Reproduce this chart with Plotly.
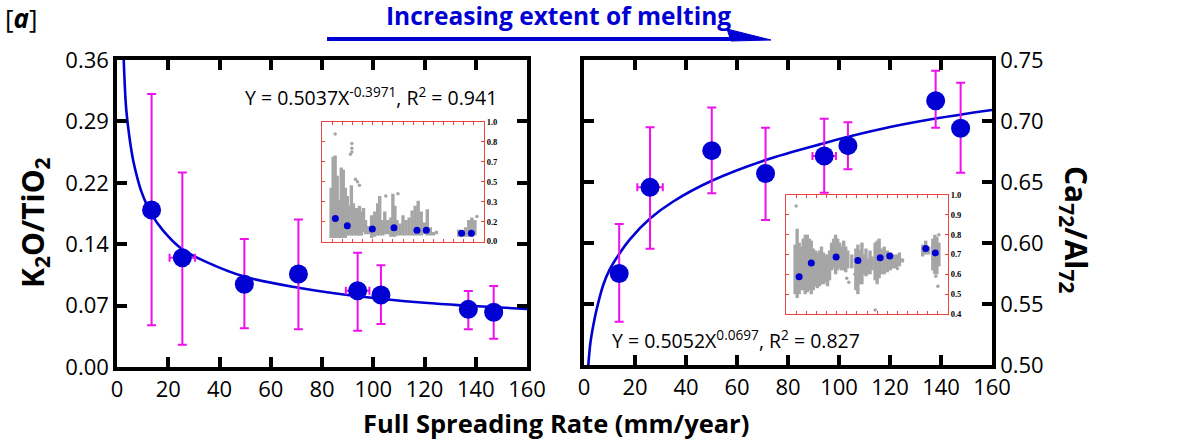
import plotly.graph_objects as go

W, H = 1189, 442

# ---------------- data ----------------
# Left panel: K2O/TiO2 vs full spreading rate
K_X = [13.5, 25.5, 49.7, 70.8, 93.9, 103.0, 137.1, 147.0]
K_Y = [0.184, 0.128, 0.097, 0.109, 0.0895, 0.0844, 0.0676, 0.0641]
K_ERR_UP = [0.136, 0.100, 0.053, 0.064, 0.0445, 0.035, 0.0215, 0.031]
K_ERR_DN = [0.135, 0.102, 0.0516, 0.0648, 0.047, 0.034, 0.0234, 0.031]
K_XERR = [0, 5.0, 0, 2.0, 4.6, 0, 0, 0]
K_FIT_X = [2.6, 3.5, 4.4, 5.3, 6.4, 8.0, 9.6, 11.5, 13.5, 18.0, 25.5, 35.0, 49.7, 70.8, 93.9, 120.0, 137.1, 160.0]
K_FIT_Y = [0.362, 0.306, 0.280, 0.260, 0.241, 0.221, 0.205, 0.191, 0.179, 0.160, 0.138, 0.123, 0.106, 0.093, 0.083, 0.0753, 0.0718, 0.068]

# Right panel: Ca72/Al72 vs full spreading rate
C_X = [13.8, 25.9, 50.1, 71.2, 94.2, 103.5, 137.9, 147.7]
C_Y = [0.575, 0.6456, 0.6757, 0.657, 0.6713, 0.6798, 0.7166, 0.694]
C_ERR_UP = [0.0406, 0.0492, 0.0353, 0.0375, 0.0306, 0.0192, 0.0246, 0.0374]
C_ERR_DN = [0.0395, 0.0503, 0.035, 0.0381, 0.0301, 0.0194, 0.0221, 0.0364]
C_XERR = [0, 5.0, 0, 2.0, 4.6, 0, 0, 0]
C_FIT_X = [1.7, 2.5, 3.6, 5.0, 7.6, 10.0, 13.8, 18.0, 25.9, 35.0, 50.1, 71.2, 94.5, 103.6, 120.0, 137.9, 160.0]
C_FIT_Y = [0.500, 0.518, 0.532, 0.546, 0.566, 0.578, 0.591, 0.603, 0.620, 0.634, 0.651, 0.668, 0.682, 0.687, 0.695, 0.702, 0.709]

# Left inset: sample ranges (columns of grey points) and means
KI_COL_X = [9, 11, 13, 15, 17, 19, 21, 23, 25, 27, 29, 31, 33, 35, 37, 39, 41, 43, 46, 49, 52, 55, 57, 60,
            62, 65, 68, 70, 72, 74, 77, 80, 83, 86, 89, 92, 95, 98, 101, 104, 107, 110, 113,
            135, 138, 142, 145, 148, 151]
KI_COL_LO = [0.03, 0.03, 0.03, 0.03, 0.03, 0.03, 0.03, 0.03, 0.05, 0.05, 0.05, 0.05, 0.05, 0.05, 0.05, 0.05,
             0.08, 0.06, 0.06, 0.03, 0.04, 0.05, 0.05, 0.05, 0.06, 0.06, 0.04, 0.04, 0.04, 0.05, 0.05, 0.05,
             0.05, 0.05, 0.05, 0.05, 0.05, 0.05, 0.06, 0.05, 0.05, 0.05, 0.06, 0.04, 0.04, 0.04, 0.04, 0.04,
             0.05]
KI_COL_HI = [0.45, 0.71, 0.72, 0.55, 0.35, 0.62, 0.60, 0.45, 0.38, 0.30, 0.47, 0.32, 0.28, 0.28, 0.30, 0.25,
             0.28, 0.18, 0.13, 0.22, 0.25, 0.32, 0.38, 0.18, 0.25, 0.18, 0.20, 0.40, 0.30, 0.18, 0.15, 0.22,
             0.18, 0.20, 0.26, 0.30, 0.34, 0.25, 0.16, 0.27, 0.12, 0.08, 0.09, 0.10, 0.08, 0.12, 0.18, 0.20,
             0.18]
KI_OUT_X = [13, 28, 29.5, 29.5, 29.5, 33, 35, 37, 63, 75, 153]
KI_OUT_Y = [0.90, 0.73, 0.82, 0.78, 0.75, 0.52, 0.50, 0.47, 0.38, 0.40, 0.21]
KI_MEAN_X = [13.2, 25.0, 49.7, 71.1, 93.8, 103.0, 137.9, 147.5]
KI_MEAN_Y = [0.193, 0.132, 0.105, 0.116, 0.094, 0.094, 0.069, 0.069]

# Right inset
CI_COL_X = [9, 11, 13, 15, 17, 19, 21, 23, 25, 27, 29, 31, 33, 35, 37, 39, 41, 43, 45, 47, 49, 51, 53, 55,
            57, 59, 61, 65, 69, 71, 73, 75, 77, 79, 81, 83, 85, 88, 90, 92, 94, 97, 100, 103, 106, 109,
            112, 115, 135, 138, 141, 145, 147, 149, 151]
CI_COL_LO = [0.50, 0.48, 0.50, 0.52, 0.52, 0.50, 0.51, 0.52, 0.50, 0.52, 0.54, 0.53, 0.54, 0.55, 0.55, 0.56,
             0.54, 0.57, 0.62, 0.63, 0.60, 0.62, 0.63, 0.62, 0.62, 0.61, 0.63, 0.63, 0.52, 0.50, 0.55, 0.55,
             0.60, 0.59, 0.60, 0.60, 0.62, 0.57, 0.55, 0.58, 0.60, 0.60, 0.61, 0.62, 0.63, 0.63, 0.64, 0.66,
             0.69, 0.70, 0.70, 0.62, 0.60, 0.60, 0.64]
CI_COL_HI = [0.75, 0.83, 0.76, 0.74, 0.78, 0.80, 0.80, 0.78, 0.77, 0.73, 0.72, 0.71, 0.72, 0.74, 0.71, 0.70,
             0.70, 0.72, 0.76, 0.78, 0.80, 0.78, 0.76, 0.74, 0.77, 0.74, 0.72, 0.70, 0.73, 0.75, 0.72, 0.76,
             0.70, 0.73, 0.68, 0.72, 0.69, 0.76, 0.77, 0.78, 0.73, 0.74, 0.72, 0.71, 0.70, 0.70, 0.71, 0.68,
             0.75, 0.77, 0.74, 0.78, 0.80, 0.79, 0.76]
CI_OUT_X = [10, 60, 62, 68, 88, 110, 148, 150, 151]
CI_OUT_Y = [0.945, 0.58, 0.56, 0.60, 0.42, 0.63, 0.59, 0.54, 0.80]
CI_MEAN_X = [13.0, 25.0, 49.5, 71.0, 93.0, 102.5, 138.0, 147.5]
CI_MEAN_Y = [0.588, 0.657, 0.688, 0.670, 0.683, 0.692, 0.730, 0.708]

X_TICKS = [0, 20, 40, 60, 80, 100, 120, 140, 160]

# ---------------- style ----------------
BLUE = "#0000d2"
MAG = "#ee11ee"
GREY = "#a6a6a6"
RED = "#ee4444"
FONT = "Open Sans"


def px_x(p):
    return p / W


def px_y(p):
    return 1 - p / H


def columns(xs, lo, hi):
    X, Y = [], []
    for x, a, b in zip(xs, lo, hi):
        X += [x, x, None]
        Y += [a, b, None]
    return X, Y


fig = go.Figure()

# --- left main
fig.add_trace(go.Scatter(x=K_FIT_X, y=K_FIT_Y, mode="lines", line=dict(color=BLUE, width=2.6, shape="spline"),
                         xaxis="x", yaxis="y", hoverinfo="skip"))
fig.add_trace(go.Scatter(
    x=K_X, y=K_Y, mode="markers", xaxis="x", yaxis="y",
    marker=dict(size=19, color=BLUE),
    error_y=dict(type="data", symmetric=False, array=K_ERR_UP, arrayminus=K_ERR_DN, color=MAG, thickness=2, width=4.5),
    error_x=dict(type="data", array=K_XERR, color=MAG, thickness=2, width=4),
))

# --- right main
fig.add_trace(go.Scatter(x=C_FIT_X, y=C_FIT_Y, mode="lines", line=dict(color=BLUE, width=2.6, shape="spline"),
                         xaxis="x2", yaxis="y2", hoverinfo="skip"))
fig.add_trace(go.Scatter(
    x=C_X, y=C_Y, mode="markers", xaxis="x2", yaxis="y2",
    marker=dict(size=19, color=BLUE),
    error_y=dict(type="data", symmetric=False, array=C_ERR_UP, arrayminus=C_ERR_DN, color=MAG, thickness=2, width=4.5),
    error_x=dict(type="data", array=C_XERR, color=MAG, thickness=2, width=4),
))

# --- insets
for (cx, lo, hi, ox, oy, mx, my, xa, ya) in [
    (KI_COL_X, KI_COL_LO, KI_COL_HI, KI_OUT_X, KI_OUT_Y, KI_MEAN_X, KI_MEAN_Y, "x3", "y3"),
    (CI_COL_X, CI_COL_LO, CI_COL_HI, CI_OUT_X, CI_OUT_Y, CI_MEAN_X, CI_MEAN_Y, "x4", "y4"),
]:
    X, Y = columns(cx, lo, hi)
    fig.add_trace(go.Scatter(x=X, y=Y, mode="lines", line=dict(color=GREY, width=3.4), xaxis=xa, yaxis=ya))
    fig.add_trace(go.Scatter(x=ox, y=oy, mode="markers", marker=dict(size=3.5, color=GREY), xaxis=xa, yaxis=ya))
    fig.add_trace(go.Scatter(x=mx, y=my, mode="markers", marker=dict(size=7, color=BLUE), xaxis=xa, yaxis=ya))

main_ax = dict(showline=True, linewidth=3.5, linecolor="black", mirror="ticks", ticks="inside",
               ticklen=10, tickwidth=3.5, tickcolor="black", showgrid=False, zeroline=False, automargin=False,
               tickfont=dict(family=FONT, size=22, color="black"))
inset_ax = dict(showline=True, linewidth=1, linecolor=RED, mirror="ticks", ticks="inside",
                ticklen=3, tickwidth=1, tickcolor=RED, showgrid=False, zeroline=False, automargin=False)
inset_font = dict(family="Liberation Serif", size=8.5, color="black", weight="bold")

layout = dict(
    width=W, height=H, autosize=False, margin=dict(l=0, r=0, t=0, b=0, pad=0),
    paper_bgcolor="white", plot_bgcolor="white", showlegend=False,
    xaxis=dict(domain=[px_x(117), px_x(527)], range=[0, 160], tickvals=X_TICKS, anchor="y", **main_ax),
    yaxis=dict(domain=[px_y(367), px_y(60)], range=[0, 0.36], tick0=0, dtick=0.072, tickformat=".2f",
               anchor="x", **main_ax),
    xaxis2=dict(domain=[px_x(584), px_x(992)], range=[0, 160], tickvals=X_TICKS, anchor="y2", **main_ax),
    yaxis2=dict(domain=[px_y(365), px_y(60)], range=[0.5, 0.75], dtick=0.05, tickformat=".2f",
                side="right", anchor="x2", **main_ax),
    xaxis3=dict(domain=[px_x(322), px_x(484)], range=[0, 160], dtick=10, showticklabels=False,
                anchor="y3", **inset_ax),
    yaxis3=dict(domain=[px_y(241.5), px_y(122)], range=[0, 1], tick0=0, dtick=1 / 6, tickformat=".1f",
                side="right", anchor="x3", tickfont=inset_font, **inset_ax),
    xaxis4=dict(domain=[px_x(786), px_x(948)], range=[0, 160], dtick=10, showticklabels=False,
                anchor="y4", **inset_ax),
    yaxis4=dict(domain=[px_y(314), px_y(195)], range=[0.4, 1.0], dtick=0.1, tickformat=".1f",
                side="right", anchor="x4", tickfont=inset_font, **inset_ax),
)
fig.update_layout(**layout)


def ann(text, x, y, size, color="black", angle=0, xanchor="center"):
    fig.add_annotation(text=text, xref="paper", yref="paper", x=px_x(x), y=px_y(y), showarrow=False,
                       textangle=angle, xanchor=xanchor, yanchor="middle",
                       font=dict(family=FONT, size=size, color=color))


ann("[<b><i>a</i></b>]", 3, 18, 26, xanchor="left")
ann("<b>Increasing extent of melting</b>", 558, 16, 24.5, color=BLUE)
ann("Y = 0.5037X<sup>-0.3971</sup>, R<sup>2</sup> = 0.941", 371, 96, 19.5)
ann("Y = 0.5052X<sup>0.0697</sup>, R<sup>2</sup> = 0.827", 736, 339, 19.5)
ann("<b>K<sub>2</sub>O/TiO<sub>2</sub></b>", 34, 223, 30, angle=-90)
ann("<b>Ca<sub>72</sub>/Al<sub>72</sub></b>", 1075, 230, 30, angle=90)
ann("<b>Full Spreading Rate (mm/year)</b>", 556, 423, 25.5)

# arrow under the heading
fig.add_shape(type="line", xref="paper", yref="paper", x0=px_x(327), y0=px_y(39), x1=px_x(735), y1=px_y(39),
              line=dict(color=BLUE, width=4))
fig.add_shape(type="path", xref="paper", yref="paper",
              path=f"M {px_x(727)} {px_y(29)} L {px_x(771)} {px_y(40)} L {px_x(731)} {px_y(41)} Z",
              fillcolor=BLUE, line=dict(color=BLUE, width=1))

fig.write_html("out.html", config={"displayModeBar": False},
               post_script="document.body.style.margin='0';document.body.style.overflow='hidden';")
